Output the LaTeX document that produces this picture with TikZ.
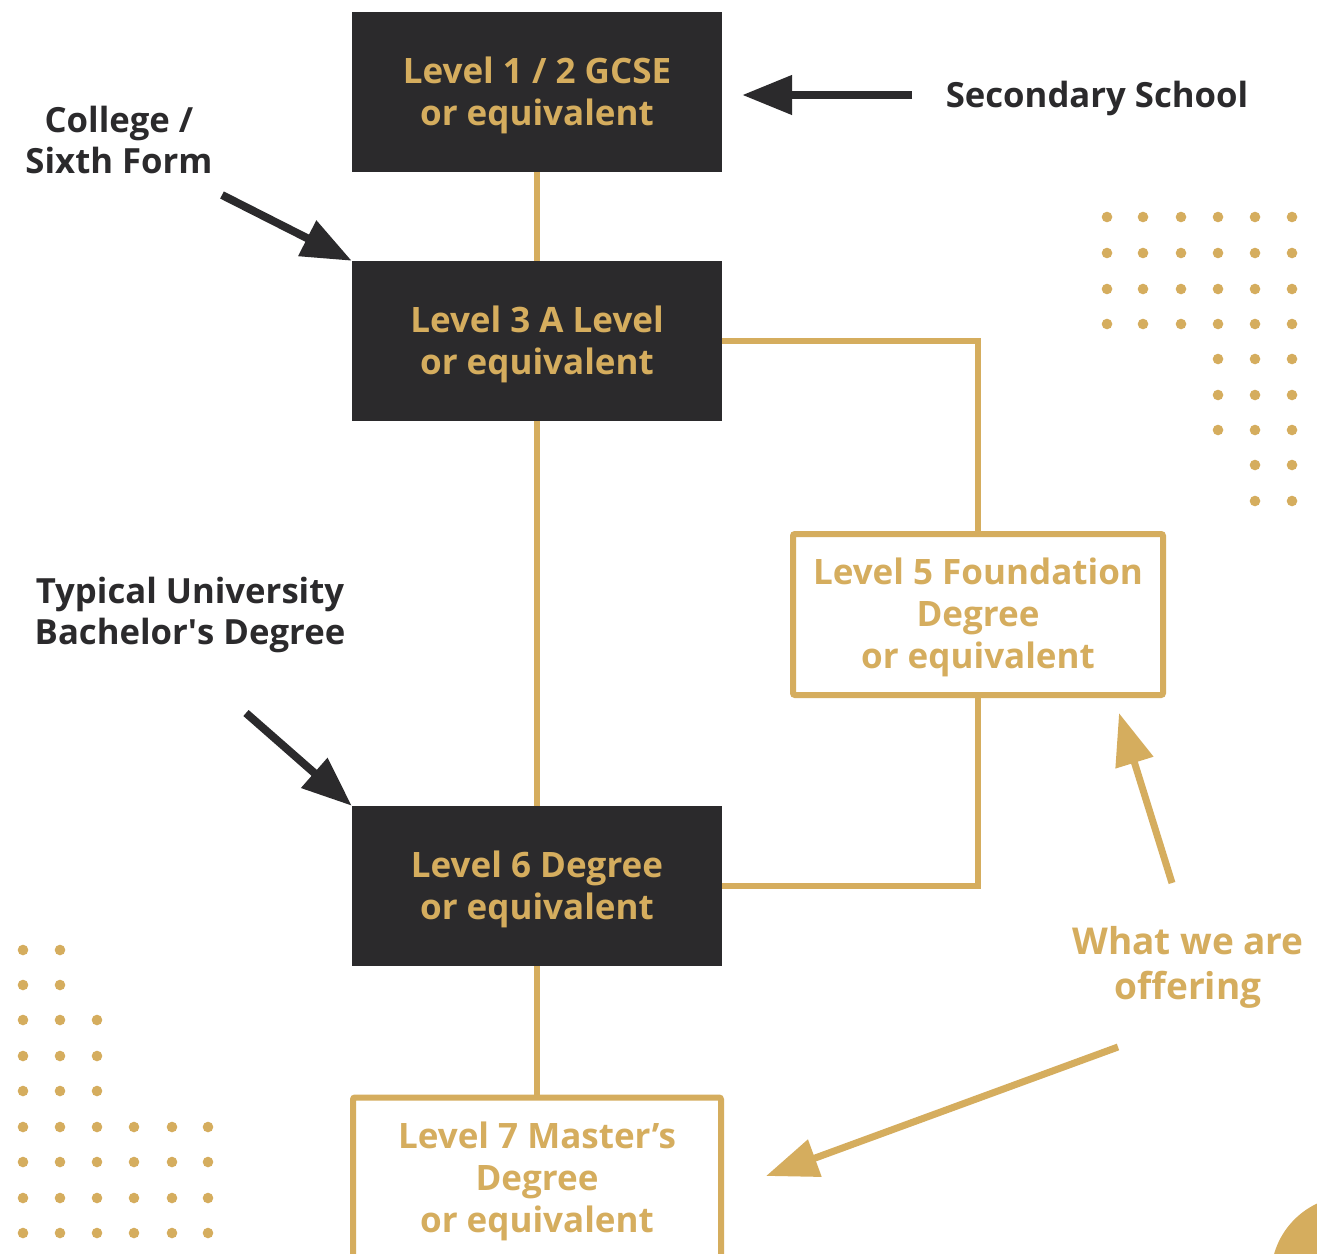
\documentclass[tikz,border=0pt]{standalone}
\usepackage{fontspec}
\setmainfont{Open Sans}
\usetikzlibrary{arrows.meta}
\definecolor{gold}{HTML}{D5AD5E}
\definecolor{ink}{HTML}{2B2A2C}
\begin{document}
\begin{tikzpicture}[x=1pt,y=-1pt,
  bigfont/.style={font=\fontsize{35}{42}\selectfont\bfseries},
  darkbox/.style={fill=ink, minimum width=370pt, minimum height=160pt, inner sep=0pt},
  goldbox/.style={draw=gold, line width=6pt, fill=white, minimum width=370pt, minimum height=161pt, inner sep=0pt, rounded corners=2pt},
  boxtext/.style={bigfont, text=gold, align=center, inner sep=0pt, yshift=-3pt},
  link/.style={draw=gold, line width=6pt},
  inklabel/.style={text=ink, align=center, inner sep=0pt, font=\fontsize{34.7}{41}\selectfont\bfseries},
  goldlabel/.style={text=gold, align=center, inner sep=0pt, font=\fontsize{37}{45}\selectfont\bfseries},
  darrow/.style={draw=ink, line width=8pt, -{Triangle[length=50pt,width=38pt]}},
  garrow/.style={draw=gold, line width=7pt, -{Triangle[length=52pt,width=38pt]}},
  dot/.style={fill=gold}
]
\clip (0,0) rectangle (1317,1253);
\fill[white] (0,0) rectangle (1317,1253);

% decorative dots
\foreach \y in {217,253,289,324} \foreach \x in {1107,1143,1181,1218,1255,1292} \fill[dot] (\x,\y) circle (5.3pt);
\foreach \y in {359,395,430} \foreach \x in {1218,1255,1292} \fill[dot] (\x,\y) circle (5.3pt);
\foreach \y in {465,501} \foreach \x in {1255,1292} \fill[dot] (\x,\y) circle (5.3pt);
\foreach \y in {950,985} \foreach \x in {23,60} \fill[dot] (\x,\y) circle (5.3pt);
\foreach \y in {1020,1056,1091} \foreach \x in {23,60,97} \fill[dot] (\x,\y) circle (5.3pt);
\foreach \y in {1127,1162,1198,1233} \foreach \x in {23,60,97,134,172,208} \fill[dot] (\x,\y) circle (5.3pt);
\fill[gold] (1351,1276) circle (80pt);

\path (537,92) coordinate (p1) (537,341) coordinate (p3) (978,614.5) coordinate (p5) (537,886) coordinate (p6) (537,1178) coordinate (p7);

\node[darkbox] (b1) at (p1) {};
\node[darkbox] (b3) at (p3) {};
\node[darkbox] (b6) at (p6) {};

\draw[link] (b1.south) -- (b3.north);
\draw[link] (b3.south) -- (b6.north);
\draw[link] (b3.east) -| (p5);
\draw[link] (p5) |- (b6.east);
\draw[link] (b6.south) -- (p7);

\node[goldbox] (b5) at (p5) {};
\node[goldbox, minimum width=368pt] (b7) at (p7) {};

\node[boxtext] (t1) at (b1) {Level 1 / 2 GCSE\\or equivalent};
\node[boxtext] (t3) at (b3) {Level 3 A Level\\or equivalent};
\node[boxtext] (t6) at (b6) {Level 6 Degree\\or equivalent};
\node[boxtext] (t5) at (b5) {Level 5 Foundation\\Degree\\or equivalent};
\node[boxtext] (t7) at (b7) {Level 7 Master’s\\Degree\\or equivalent};

% labels
\node[inklabel] (sec) at (1097,98) {Secondary School};
\node[inklabel] (col) at (119,140) {College /\\Sixth Form};
\node[inklabel] (uni) at (190,615) {Typical University\\Bachelor\textquotesingle s Degree};
\node[goldlabel] (off) at (1188,967) {What we are\\offering};

% arrows
\coordinate (st) at (912,95);
\coordinate (ct) at (222,195);
\coordinate (ut) at (246,713);
\coordinate (g1t) at (1172,883);
\coordinate (g1h) at (1119,713);
\coordinate (g2t) at (1118,1047);
\coordinate (g2h) at (766,1176);

\draw[darrow, shorten >=20pt] (st) -- (b1.east |- st);
\draw[darrow] (ct) -- (b3.north west);
\draw[darrow] (ut) -- (b6.north west);
\draw[garrow] (g1t) -- (g1h);
\draw[garrow] (g2t) -- (g2h);
\end{tikzpicture}
\end{document}
